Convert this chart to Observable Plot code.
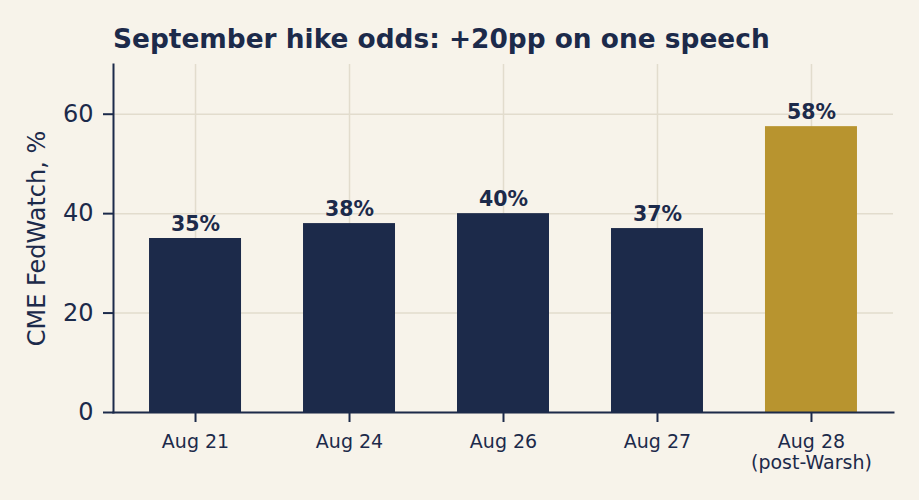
<!DOCTYPE html>
<html>
<head>
<meta charset="utf-8">
<script src="https://cdn.jsdelivr.net/npm/d3@7"></script>
<script src="https://cdn.jsdelivr.net/npm/@observablehq/plot@0.6"></script>
<style>
  html, body { margin: 0; padding: 0; background: #f7f3ea; }
  #wrap { width: 919px; height: 500px; overflow: hidden; background: #f7f3ea; }
  #title {
    box-sizing: border-box; height: 60px; margin: 0; padding: 25.5px 0 0 113px;
    font-family: "DejaVu Sans", sans-serif; font-weight: bold; font-size: 26.4px;
    line-height: 1; color: #1c2a4a; white-space: nowrap;
  }
</style>
</head>
<body>
<div id="wrap">
  <div id="title">September hike odds: +20pp on one speech</div>
  <div id="chart"></div>
</div>
<script>
const dates = ["Aug 21", "Aug 24", "Aug 26", "Aug 27", "Aug 28\n(post-Warsh)"];
const odds = [35, 38, 40, 37, 57.5];
const phase = ["pre", "pre", "pre", "pre", "post"];
const yTicks = [0, 20, 40, 60];
const yLabel = "CME FedWatch, %";

const navy = "#1c2a4a";
const gold = "#b8942f";
const gridColor = "#e2dccd";

const rows = dates.map((d, i) => ({date: d, odds: odds[i], phase: phase[i]}));

const chart = Plot.plot({
  width: 919,
  height: 440,
  marginTop: 4,
  marginBottom: 88,
  marginLeft: 113,
  marginRight: 26,
  style: {background: "#f7f3ea", fontFamily: "DejaVu Sans, sans-serif", color: navy},
  x: {domain: dates, paddingInner: 0.4026, paddingOuter: 0.234, align: 0.5, round: false, label: null},
  y: {domain: [0, 70], label: null},
  color: {domain: ["pre", "post"], range: [navy, gold]},
  marks: [
    Plot.gridY(yTicks, {stroke: gridColor, strokeOpacity: 1, strokeWidth: 1.5}),
    Plot.gridX({stroke: gridColor, strokeOpacity: 1, strokeWidth: 1.5}),
    Plot.barY(rows, {x: "date", y: "odds", fill: "phase"}),
    Plot.text(rows, {
      x: "date", y: "odds", text: d => `${Math.round(d.odds)}%`,
      dy: -14, fontSize: 20.5, fontWeight: "bold", fill: navy
    }),
    Plot.axisY(yTicks, {
      tickSize: 10, tickPadding: 10, fontSize: 24, strokeWidth: 2, stroke: navy, fill: navy,
      label: yLabel, labelAnchor: "center", labelOffset: 86, labelArrow: "none"
    }),
    Plot.axisX({
      tickSize: 10, tickPadding: 11, fontSize: 19, strokeWidth: 2, stroke: navy, fill: navy,
      lineHeight: 1.1, label: null
    }),
    Plot.frame({anchor: "left", stroke: navy, strokeWidth: 2}),
    Plot.frame({anchor: "bottom", stroke: navy, strokeWidth: 2})
  ]
});
document.getElementById("chart").appendChild(chart);
</script>
</body>
</html>
